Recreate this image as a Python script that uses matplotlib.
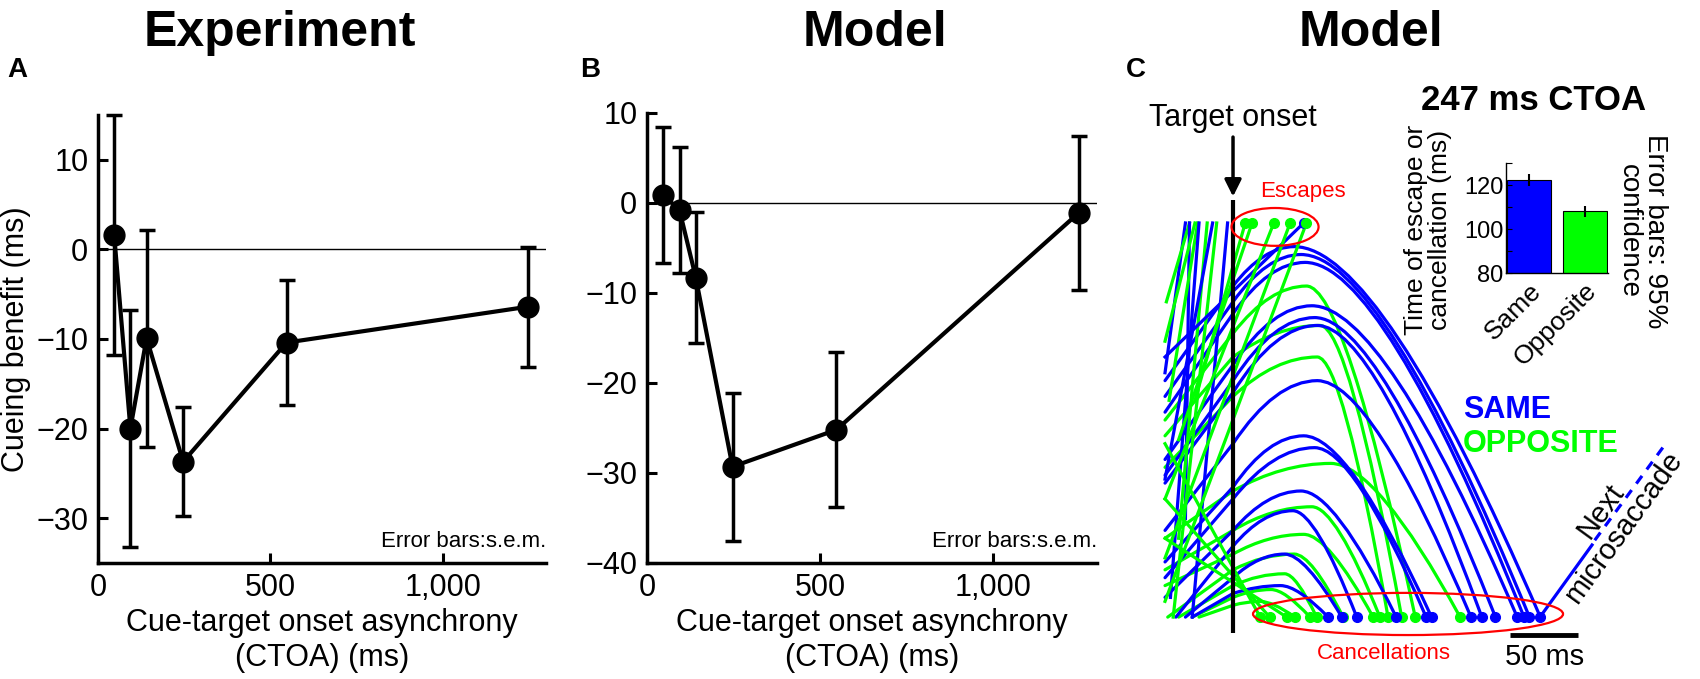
import matplotlib
matplotlib.use("Agg")
import matplotlib.pyplot as plt
from matplotlib.path import Path
from matplotlib.patches import PathPatch, Ellipse
from matplotlib.ticker import FuncFormatter

plt.rcParams["font.family"] = ["Liberation Sans", "DejaVu Sans"]

BLUE = "#0000ff"
GREEN = "#00ff00"
RED = "#ff0000"

# ── panels A/B: cueing benefit vs CTOA ──
ctoa = [47, 94, 141, 247, 547, 1247]
exp_benefit = [1.6, -20.0, -9.9, -23.7, -10.4, -6.4]
exp_sem = [13.4, 13.2, 12.1, 6.1, 7.0, 6.7]
model_benefit = [0.9, -0.8, -8.3, -29.3, -25.2, -1.1]
model_sem = [7.6, 7.0, 7.3, 8.2, 8.6, 8.6]

# ── panel C inset: time of escape / cancellation ──
inset_labels = ["Same", "Opposite"]
inset_means = [122.1, 108.1]
inset_ci = [2.7, 2.5]

# ── panel C: model trajectories (time from target onset in ms, activation 0..1) ──
# cancelled trajectories: start, value at onset, peak, end time
same_t_in = [-50, -50, -50, -50, -50, -50, -50, -50, -50, -50, -42, -35, -30]
same_a_in = [0.60, 0.56, 0.52, 0.40, 0.36, 0.34, 0.22, 0.14, 0.10, 0.05, 0.0, 0.0, 0.0]
same_a_on = [0.84, 0.80, 0.77, 0.64, 0.60, 0.57, 0.44, 0.33, 0.30, 0.22, 0.18, 0.10, 0.06]
same_t_pk = [45, 50, 53, 58, 60, 62, 62, 52, 60, 50, 44, 38, 35]
same_a_pk = [0.94, 0.92, 0.90, 0.79, 0.76, 0.74, 0.60, 0.46, 0.43, 0.32, 0.27, 0.16, 0.08]
same_t_end = [226, 218, 214, 209, 193, 183, 175, 146, 142, 120, 91, 80, 70]

opp_t_in = [-50, -50, -50, -50, -50, -50, -48, -40, -30, -25]
opp_a_in = [0.50, 0.46, 0.38, 0.20, 0.12, 0.08, 0.0, 0.0, 0.0, 0.0]
opp_a_on = [0.72, 0.66, 0.56, 0.32, 0.22, 0.16, 0.12, 0.08, 0.05, 0.03]
opp_t_pk = [54, 64, 62, 72, 58, 52, 45, 38, 28, 20]
opp_a_pk = [0.84, 0.74, 0.66, 0.39, 0.28, 0.21, 0.16, 0.11, 0.07, 0.04]
opp_t_end = [134, 124, 114, 167, 108, 103, 81, 61.5, 56.6, 45.6]

# opposite trajectories falling straight to cancellation
opp_fall_t_in = [-50, -50, -50]
opp_fall_a_in = [0.44, 0.30, 0.20]
opp_fall_t_end = [20, 27, 39.5]

# rises reaching threshold before target onset
same_pre_t0 = [-50, -35, -30, -46, -50]
same_pre_a0 = [0.62, 0.25, 0.0, 0.05, 0.35]
same_pre_t1 = [-35, -32, -4, -25, -15]
opp_pre_t0 = [-49, -40, -47, -44, -50]
opp_pre_a0 = [0.80, 0.20, 0.55, 0.0, 0.70]
opp_pre_t1 = [-32, -19, -26, -12, -28]

# escapes (reach threshold after target onset)
same_esc_t_in = [-50]
same_esc_a_in = [0.66]
same_esc_t = [52]
opp_esc_t_in = [-28, -40, -50, -50, -50]
opp_esc_a_in = [0.55, 0.45, 0.30, 0.15, 0.04]
opp_esc_t = [9, 14, 30, 42, 54]

W, H = 1700, 679
fig = plt.figure(figsize=(17, 6.79), dpi=100)


def benefit_panel(ax, y, err, ylim, yticks):
    ax.axhline(0, color="black", lw=1.0, zorder=1)
    ax.errorbar(ctoa, y, yerr=err, color="black", lw=3, marker="o", ms=15,
                elinewidth=2.5, capsize=6, capthick=2.5, zorder=3, clip_on=False)
    ax.set_xlim(0, 1300)
    ax.set_ylim(*ylim)
    ax.set_yticks(yticks)
    ax.set_xticks([0, 500, 1000])
    ax.xaxis.set_major_formatter(FuncFormatter(lambda v, p: f"{v:,.0f}"))
    ax.tick_params(direction="in", length=7, width=2.2, labelsize=22, pad=7)
    for s in ["top", "right"]:
        ax.spines[s].set_visible(False)
    for s in ["left", "bottom"]:
        ax.spines[s].set_linewidth(2.5)
    ax.set_xlabel("Cue-target onset asynchrony\n(CTOA) (ms)", fontsize=22,
                  linespacing=1.2, labelpad=4)
    ax.text(1.0, 0.025, "Error bars:s.e.m.", transform=ax.transAxes,
            ha="right", va="bottom", fontsize=16)


axa = fig.add_axes([98 / W, 1 - 563 / H, 448 / W, 448 / H])
benefit_panel(axa, exp_benefit, exp_sem, (-35, 15), [-30, -20, -10, 0, 10])
axa.set_ylabel("Cueing benefit (ms)", fontsize=22)

axb = fig.add_axes([647 / W, 1 - 563 / H, 450 / W, 450 / H])
benefit_panel(axb, model_benefit, model_sem, (-40, 10), [-40, -30, -20, -10, 0, 10])

# titles and panel letters
fig.text(280 / W, 1 - 46 / H, "Experiment", fontsize=36, weight="bold", ha="center", va="baseline")
fig.text(875 / W, 1 - 46 / H, "Model", fontsize=36, weight="bold", ha="center", va="baseline")
fig.text(1371 / W, 1 - 46 / H, "Model", fontsize=36, weight="bold", ha="center", va="baseline")
fig.text(7 / W, 1 - 77 / H, "A", fontsize=20, weight="bold", va="baseline")
fig.text(580 / W, 1 - 77 / H, "B", fontsize=20, weight="bold", va="baseline")
fig.text(1126 / W, 1 - 77 / H, "C", fontsize=20, weight="bold", va="baseline")

# ── panel C ──
axc = fig.add_axes([1140 / W, 0, 560 / W, 579 / H])
axc.set_xlim(-68.4, 343.4)
axc.set_ylim(-0.157, 1.312)
axc.axis("off")

LW = 2.3


def cancel_curve(ax, t_in, a_in, a_on, t_pk, a_pk, t_end, color):
    verts = [(t_in, a_in), (0, a_on), (0.5 * t_pk, a_pk), (t_pk, a_pk),
             (t_pk + 0.35 * (t_end - t_pk), a_pk), (t_end, 0.0)]
    codes = [Path.MOVETO, Path.LINETO, Path.CURVE3, Path.CURVE3,
             Path.CURVE3, Path.CURVE3]
    ax.add_patch(PathPatch(Path(verts, codes), fill=False, edgecolor=color,
                           lw=LW, capstyle="round", joinstyle="round"))
    ax.plot([t_end], [0.0], "o", color=color, ms=7, zorder=4)


# rises before onset
for i in range(len(same_pre_t0)):
    axc.plot([same_pre_t0[i], same_pre_t1[i]], [same_pre_a0[i], 1.0], color=BLUE, lw=LW)
    axc.plot([opp_pre_t0[i], opp_pre_t1[i]], [opp_pre_a0[i], 1.0], color=GREEN, lw=LW)

# cancelled trajectories, interleaved
n = max(len(same_t_in), len(opp_t_in))
for i in range(n):
    if i < len(same_t_in):
        cancel_curve(axc, same_t_in[i], same_a_in[i], same_a_on[i],
                     same_t_pk[i], same_a_pk[i], same_t_end[i], BLUE)
    if i < len(opp_t_in):
        cancel_curve(axc, opp_t_in[i], opp_a_in[i], opp_a_on[i],
                     opp_t_pk[i], opp_a_pk[i], opp_t_end[i], GREEN)

for t0, a0, t1 in zip(opp_fall_t_in, opp_fall_a_in, opp_fall_t_end):
    axc.plot([t0, t1], [a0, 0.0], color=GREEN, lw=LW)
    axc.plot([t1], [0.0], "o", color=GREEN, ms=7, zorder=4)

# escapes
for t0, a0, t1 in zip(same_esc_t_in, same_esc_a_in, same_esc_t):
    axc.plot([t0, t1], [a0, 1.0], color=BLUE, lw=LW)
    axc.plot([t1], [1.0], "o", color=BLUE, ms=7, zorder=4)
for t0, a0, t1 in zip(opp_esc_t_in, opp_esc_a_in, opp_esc_t):
    axc.plot([t0, t1], [a0, 1.0], color=GREEN, lw=LW)
    axc.plot([t1], [1.0], "o", color=GREEN, ms=7, zorder=4)

# target onset marker
axc.plot([0, 0], [-0.04, 1.058], color="black", lw=3, zorder=5, solid_capstyle="butt")
axc.annotate("", xy=(0, 1.06), xytext=(0, 1.225),
             arrowprops=dict(arrowstyle="-|>", color="black", lw=2.5, mutation_scale=25))
axc.text(0, 1.266, "Target onset", fontsize=22, ha="center", va="center")

# escape / cancellation annotations
axc.add_patch(Ellipse((30.9, 0.99), 64, 0.096, fill=False, edgecolor=RED, lw=1.6, zorder=6))
axc.text(51.5, 1.079, "Escapes", color=RED, fontsize=16, ha="center", va="center")
axc.add_patch(Ellipse((128.7, 0.008), 228, 0.107, fill=False, edgecolor=RED, lw=1.6, zorder=6))
axc.text(111, -0.092, "Cancellations", color=RED, fontsize=16, ha="center", va="center")

axc.text(169, 0.525, "SAME", color=BLUE, fontsize=22, weight="bold", ha="left", va="center")
axc.text(169, 0.44, "OPPOSITE", color=GREEN, fontsize=22, weight="bold", ha="left", va="center")

# next microsaccade
axc.plot([225.7, 264], [0.0, 0.183], color=BLUE, lw=LW)
axc.plot([266, 319], [0.195, 0.444], color=BLUE, lw=LW, linestyle=(0, (3, 2.5)))
axc.text(279, 0.249, "Next\nmicrosaccade", fontsize=21, rotation=54,
         ha="center", va="center", multialignment="center", linespacing=1.0)

# 50 ms scale bar
axc.plot([203.7, 253.7], [-0.046, -0.046], color="black", lw=3.5, solid_capstyle="butt")
axc.text(229, -0.10, "50 ms", fontsize=21, ha="center", va="center")

# ── inset bar chart ──
axi = fig.add_axes([1506 / W, 1 - 273 / H, 102 / W, 110 / H])
axi.bar([1, 2], inset_means, width=0.8, color=[BLUE, GREEN], edgecolor="black", lw=0.8)
axi.errorbar([1, 2], inset_means, yerr=inset_ci, fmt="none", ecolor="black",
             elinewidth=1.5, capsize=0)
axi.set_xlim(0.58, 2.42)
axi.set_ylim(80, 130)
axi.set_yticks([80, 90, 100, 110, 120, 130])
axi.set_yticklabels(["80", "", "100", "", "120", ""])
axi.set_xticks([1, 2])
axi.set_xticklabels(inset_labels, rotation=45, ha="right", va="top",
                    rotation_mode="anchor", fontsize=19)
axi.tick_params(axis="y", direction="in", length=4, width=0.8, labelsize=17, pad=2)
axi.tick_params(axis="x", length=0, pad=4)
for s in ["top", "right"]:
    axi.spines[s].set_visible(False)
for s in ["left", "bottom"]:
    axi.spines[s].set_linewidth(1.0)

fig.text(1534 / W, 1 - 110 / H, "247 ms CTOA", fontsize=25, weight="bold",
         ha="center", va="baseline")
fig.text(1428 / W, 1 - 230 / H, "Time of escape or\ncancellation (ms)", fontsize=19,
         rotation=90, ha="center", va="center", multialignment="center", linespacing=1.05)
fig.text(1642 / W, 1 - 231 / H, "Error bars: 95%\nconfidence", fontsize=20,
         rotation=270, ha="center", va="center", multialignment="center", linespacing=1.05)

fig.savefig("out.png", dpi=100, facecolor="white")
